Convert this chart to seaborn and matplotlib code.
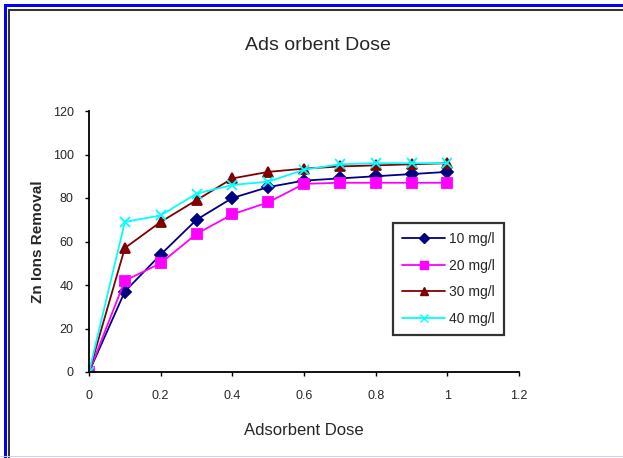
import matplotlib
matplotlib.use("Agg")
import matplotlib.pyplot as plt
from matplotlib.patches import Rectangle
from matplotlib.lines import Line2D
import seaborn as sns
import pandas as pd

# Adsorbent dose (g) and percentage removal for each initial concentration
dose = [0, 0.1, 0.2, 0.3, 0.4, 0.5, 0.6, 0.7, 0.8, 0.9, 1.0]
removal_10 = [0, 37, 54, 70, 80, 85, 88, 89, 90, 91, 92]
removal_20 = [0, 42, 50, 63.5, 72.5, 78, 86.5, 87, 87, 87, 87]
removal_30 = [0, 57, 69, 79, 89, 92, 93.5, 94.5, 95, 95.5, 96]
removal_40 = [0, 69, 72, 82, 86, 87.5, 93, 95.5, 96, 96, 96]

series_labels = ["10 mg/l", "20 mg/l", "30 mg/l", "40 mg/l"]
series_colors = ["#000080", "#ff00ff", "#800000", "#00ffff"]
series_markers = ["D", "s", "^", "x"]

x_ticks = [0, 0.2, 0.4, 0.6, 0.8, 1, 1.2]
x_tick_labels = ["0", "0.2", "0.4", "0.6", "0.8", "1", "1.2"]
y_ticks = [0, 20, 40, 60, 80, 100, 120]

sns.set_style("white")
plt.rcParams["font.family"] = ["Liberation Sans", "DejaVu Sans"]

fig = plt.figure(figsize=(6.23, 4.58), dpi=100)
ax = fig.add_axes([89 / 623, 1 - 372 / 458, 430 / 623, 261 / 458])

for lab, vals, c, m in zip(series_labels, [removal_10, removal_20, removal_30, removal_40],
                           series_colors, series_markers):
    sub = pd.DataFrame({"dose": dose, "removal": vals})
    sns.lineplot(data=sub, x="dose", y="removal", color=c, marker=m,
                 markersize=6.5, markeredgewidth=1.3, markeredgecolor=c,
                 markerfacecolor=c, linewidth=1.3, ax=ax, legend=False)

ax.set_xlim(0, 1.2)
ax.set_ylim(0, 120)
ax.set_xticks(x_ticks)
ax.set_xticklabels(x_tick_labels)
ax.set_yticks(y_ticks)
ax.tick_params(axis="both", direction="out", length=3, width=1, color="black",
               labelsize=9, bottom=True, left=True)
ax.tick_params(axis="x", pad=10)
ax.tick_params(axis="y", pad=8)
for side in ["top", "right"]:
    ax.spines[side].set_visible(False)
for side in ["left", "bottom"]:
    ax.spines[side].set_color("black")
    ax.spines[side].set_linewidth(1.3)

ax.set_xlabel("Adsorbent Dose", fontsize=12, labelpad=15)
ax.set_ylabel("Zn Ions Removal", fontsize=11, fontweight="bold")
ax.yaxis.set_label_coords(-(89 - 45) / 430, 0.5)
fig.text(318 / 623, 1 - 45 / 458, "Ads orbent Dose", ha="center", va="center", fontsize=14)

handles = [
    Line2D([0], [0], color=c, marker=m, markersize=5.5, markerfacecolor=c,
           markeredgecolor=c, linewidth=1.3)
    for c, m in zip(series_colors, series_markers)
]
leg = ax.legend(handles, series_labels, loc="upper left",
                bbox_to_anchor=((393 - 89) / 430, (372 - 223) / 261),
                borderaxespad=0, frameon=True, fancybox=False, edgecolor="black",
                fontsize=10, handlelength=3.1, handletextpad=0.3,
                labelspacing=0.9, borderpad=0.65)
leg.get_frame().set_linewidth(1.6)

# outer window frame
fig.patches.append(Rectangle((4 / 623, 0), 3 / 623, 1 - 4 / 458, transform=fig.transFigure,
                             facecolor="#0000ff", edgecolor="none"))
fig.patches.append(Rectangle((4 / 623, 1 - 7 / 458), 1, 3 / 458, transform=fig.transFigure,
                             facecolor="#0000ff", edgecolor="none"))
fig.patches.append(Rectangle((8 / 623, 0), 1.5 / 623, 1 - 9 / 458, transform=fig.transFigure,
                             facecolor="#333333", edgecolor="none"))
fig.patches.append(Rectangle((8 / 623, 1 - 11 / 458), 1, 1.5 / 458, transform=fig.transFigure,
                             facecolor="#333333", edgecolor="none"))
fig.patches.append(Rectangle((0, 1 / 458), 1, 1.5 / 458, transform=fig.transFigure,
                             facecolor="#ccccff", edgecolor="none"))

fig.savefig("out.png", dpi=100)
